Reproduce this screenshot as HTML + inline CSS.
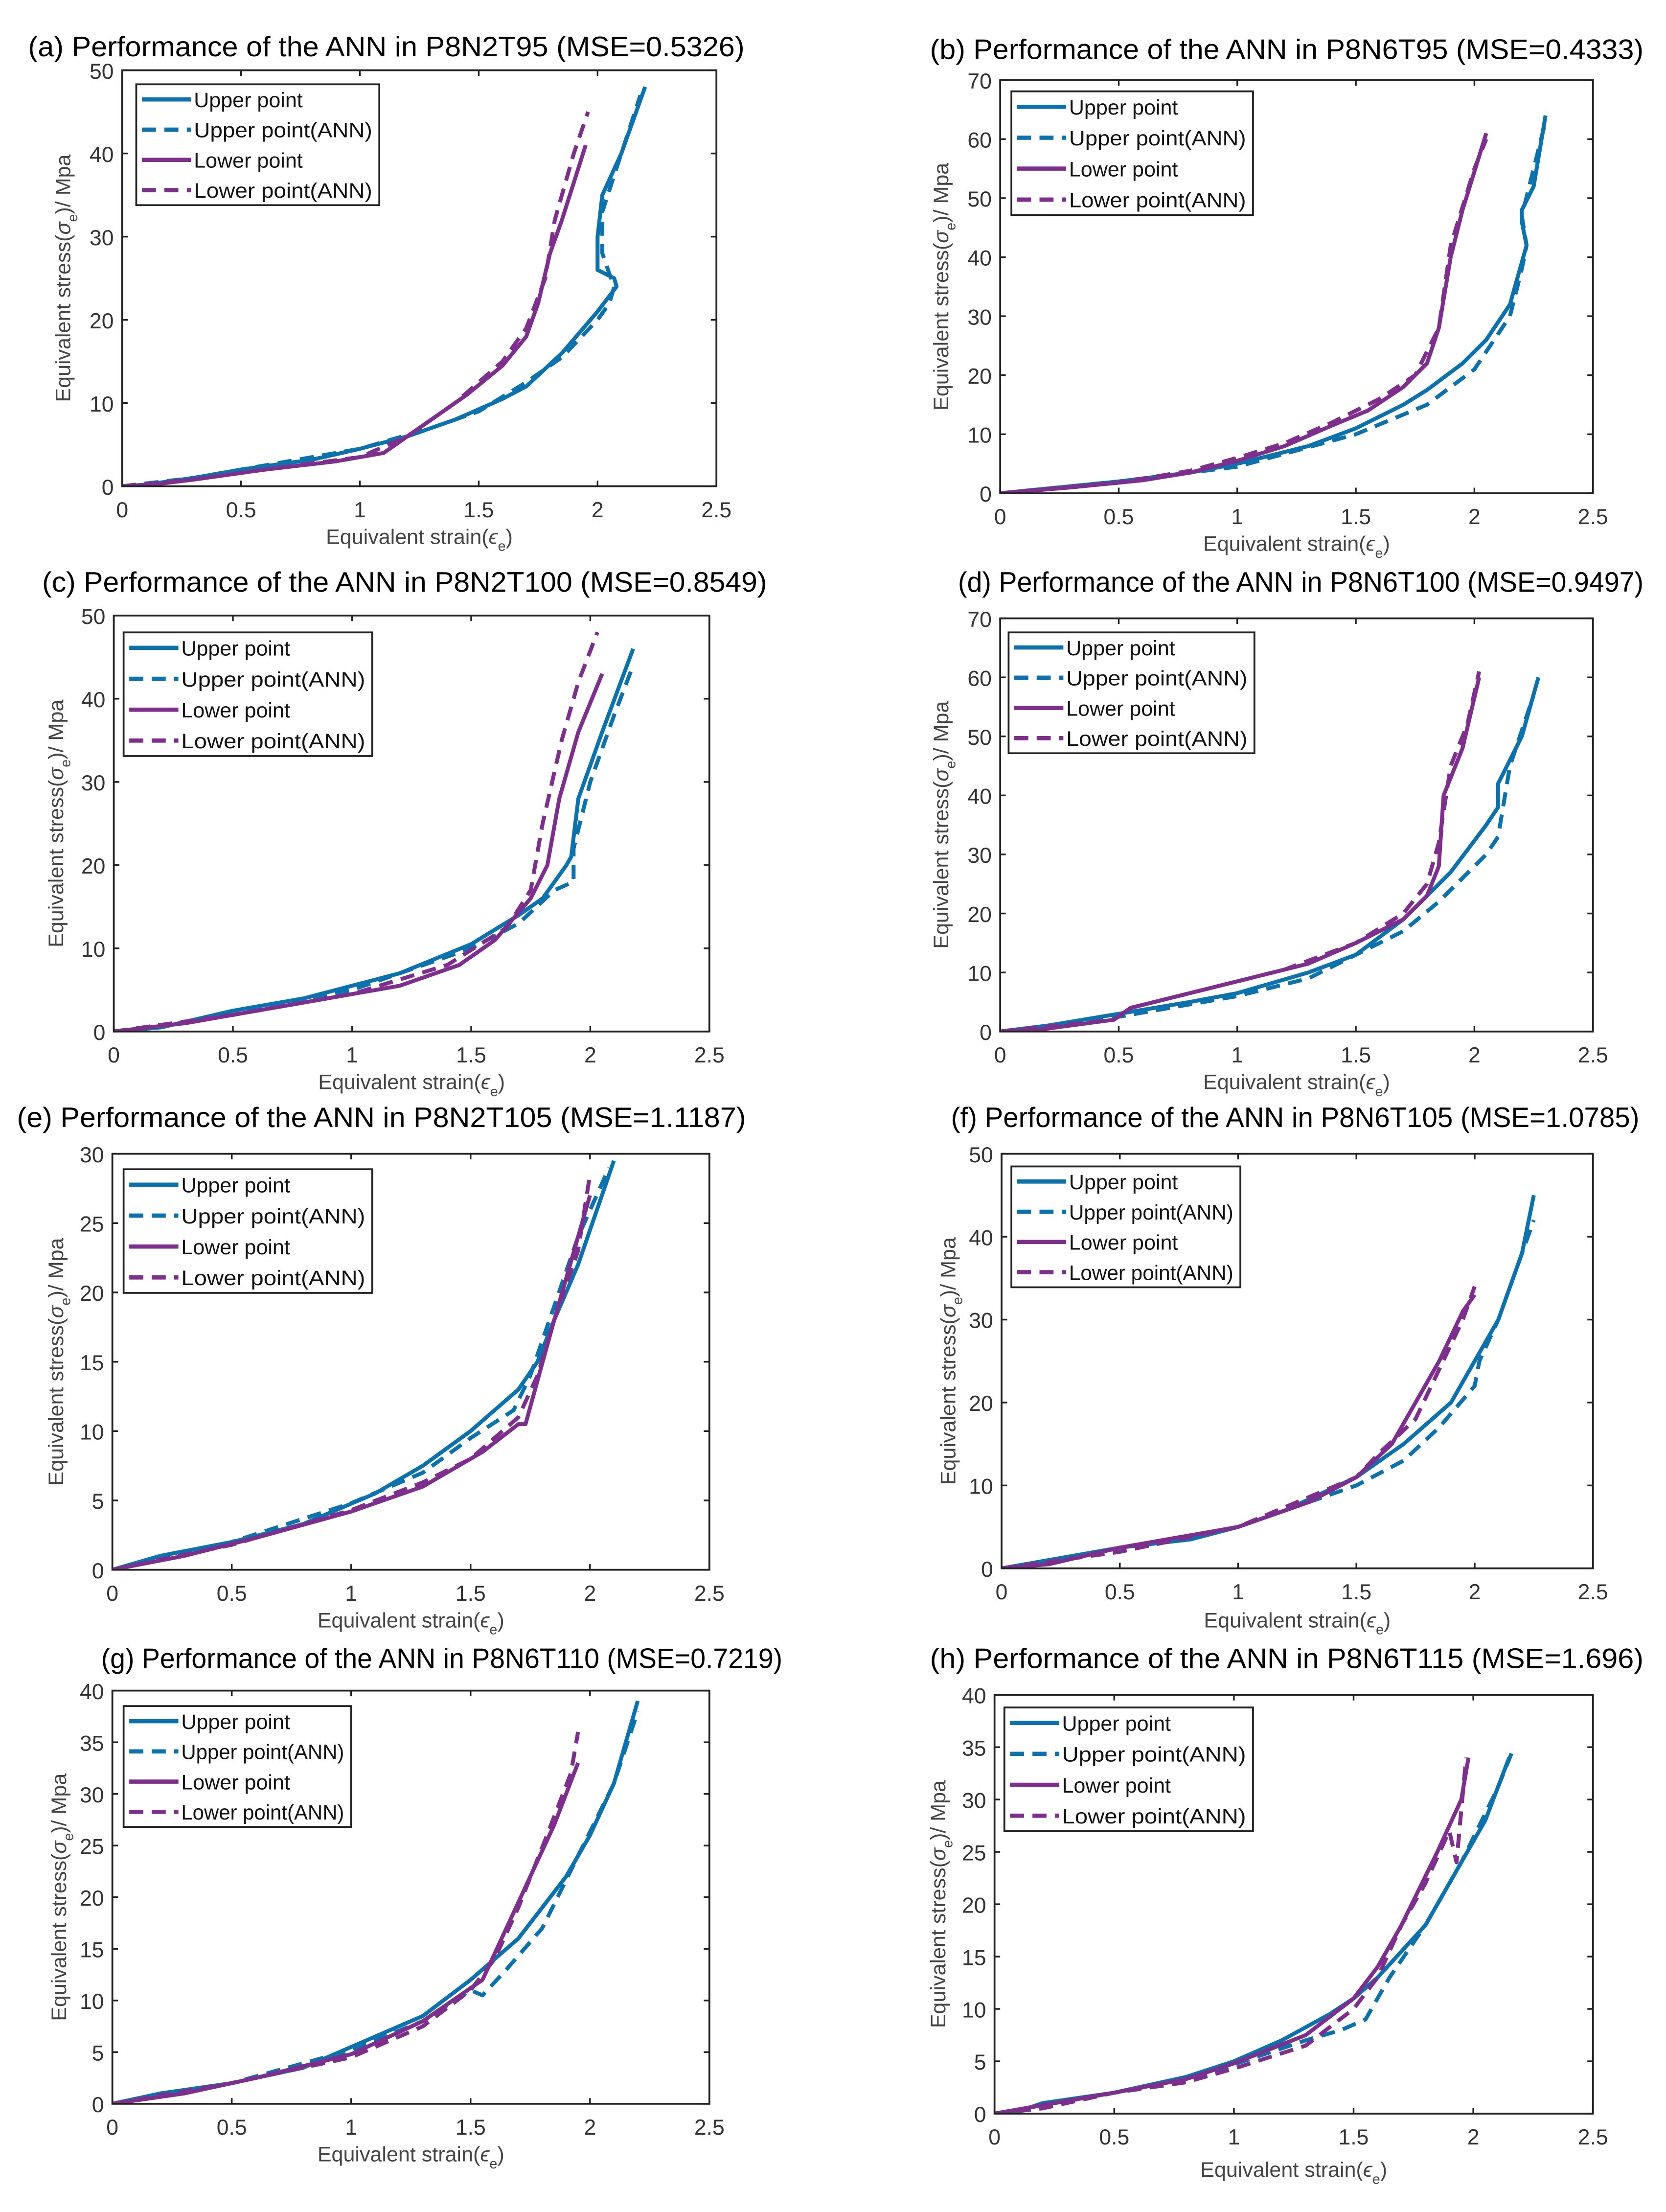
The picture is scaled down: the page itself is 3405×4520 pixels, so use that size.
<!DOCTYPE html>
<html><head><meta charset="utf-8">
<style>
html,body{margin:0;padding:0;background:#fff;}
svg{display:block;}
text{font-family:"Liberation Sans",sans-serif;}
</style></head>
<body>
<svg id="fig" width="3405" height="4520" viewBox="0 0 1186 1574" preserveAspectRatio="none" xmlns="http://www.w3.org/2000/svg"></svg>
<script>
const xTicks = [0, 0.5, 1, 1.5, 2, 2.5];
const xTickLabels = ["0", "0.5", "1", "1.5", "2", "2.5"];
const legendLabels = ["Upper point", "Upper point(ANN)", "Lower point", "Lower point(ANN)"];
const panelTitles = [
 "(a) Performance of the ANN in P8N2T95 (MSE=0.5326)",
 "(b) Performance of the ANN in P8N6T95 (MSE=0.4333)",
 "(c) Performance of the ANN in P8N2T100 (MSE=0.8549)",
 "(d) Performance of the ANN in P8N6T100 (MSE=0.9497)",
 "(e) Performance of the ANN in P8N2T105 (MSE=1.1187)",
 "(f) Performance of the ANN in P8N6T105 (MSE=1.0785)",
 "(g) Performance of the ANN in P8N6T110 (MSE=0.7219)",
 "(h) Performance of the ANN in P8N6T115 (MSE=1.696)"];
const yMaxes = [50, 70, 50, 70, 30, 50, 40, 40];
const yStepSizes = [10, 10, 10, 10, 5, 10, 5, 5];

const upperA = [[0,0],[0.1,0.2],[0.3,1],[0.5,2],[0.8,3.2],[1,4.5],[1.2,6],[1.4,8],[1.6,10.5],[1.7,12],[1.85,16],[2,21],[2.08,24],[2.07,25],[2.0,26],[2.0,30],[2.02,35],[2.1,40],[2.2,48]];
const upperAnnA = [[0,0],[0.3,1],[0.5,2],[1,4.5],[1.3,7],[1.5,9],[1.7,12.5],[1.85,15.5],[2.0,20],[2.05,22],[2.07,24],[2.05,25.5],[2.02,28],[2.02,33],[2.1,40],[2.18,47]];
const lowerA = [[0,0],[0.1,0.1],[0.3,0.8],[0.6,2],[0.9,3],[1.1,4],[1.2,6],[1.3,8],[1.45,11],[1.6,14.5],[1.7,18],[1.75,22],[1.8,28],[1.85,32],[1.95,41]];
const lowerAnnA = [[0,0],[0.3,0.8],[0.6,2],[1,3.5],[1.2,6],[1.4,10],[1.6,15],[1.7,19],[1.78,25],[1.82,32],[1.9,40],[1.96,45]];

const upperB = [[0,0],[0.2,0.8],[0.5,2],[0.8,3.5],[1,5],[1.3,8],[1.5,11],[1.7,15],[1.8,17.5],[1.95,22],[2.05,26],[2.15,32],[2.22,42],[2.2,46],[2.2,48],[2.25,52],[2.3,64]];
const upperAnnB = [[0,0],[0.5,2],[1,4.5],[1.5,10],[1.8,15],[2.0,21],[2.15,30],[2.2,38],[2.22,42],[2.2,47],[2.25,55],[2.3,63]];
const lowerB = [[0,0],[0.3,1],[0.6,2.2],[0.8,3.5],[1,5.5],[1.2,8],[1.4,11.5],[1.55,14],[1.7,18],[1.8,22],[1.85,28],[1.9,40],[1.95,48],[2.05,61]];
const lowerAnnB = [[0,0],[0.5,1.8],[0.8,3.8],[1.0,6],[1.2,8.5],[1.4,12],[1.6,16],[1.75,20],[1.85,28],[1.9,42],[2.0,55],[2.05,60]];

const upperC = [[0,0],[0.2,0.5],[0.5,2.5],[0.8,4],[1.0,5.5],[1.2,7],[1.5,10.5],[1.7,14],[1.8,16],[1.9,20],[1.92,21],[1.95,28],[2.05,36],[2.18,46]];
const upperAnnC = [[0,0],[0.5,2],[1,5],[1.5,10],[1.7,13],[1.85,17],[1.93,18],[1.93,22],[2.0,30],[2.1,38],[2.18,44]];
const lowerC = [[0,0],[0.3,1],[0.6,2.5],[1,4.5],[1.2,5.5],[1.45,8],[1.6,11],[1.75,16],[1.82,20],[1.87,28],[1.95,36],[2.05,43]];
const lowerAnnC = [[0,0],[0.5,2],[1,4.5],[1.4,8],[1.65,12.5],[1.75,17],[1.8,25],[1.88,35],[1.95,42],[2.03,48]];

const upperD = [[0,0],[0.2,1],[0.5,3],[0.8,5],[1.0,6.5],[1.3,10],[1.5,13],[1.7,19],[1.9,27],[2.05,35],[2.1,38],[2.1,42],[2.2,50],[2.27,60]];
const upperAnnD = [[0,0],[0.5,2.5],[1,6],[1.3,9],[1.5,13],[1.7,17],[1.85,22],[2.05,30],[2.1,33],[2.15,45],[2.25,57]];
const lowerD = [[0,0],[0.2,0.5],[0.48,2],[0.55,4],[0.8,6.5],[1.0,8.5],[1.3,11.5],[1.5,15],[1.7,19],[1.8,23],[1.85,28],[1.87,40],[1.95,48],[2.02,60]];
const lowerAnnD = [[0,0],[0.48,2],[0.55,4],[0.8,6.5],[1.2,10.5],[1.5,15],[1.7,20],[1.8,25],[1.85,32],[1.9,45],[1.97,52],[2.02,61]];

const upperE = [[0,0],[0.2,1],[0.5,2],[0.8,3.3],[1.1,5.5],[1.3,7.5],[1.5,10],[1.7,13],[1.78,15],[1.85,18],[1.95,22],[2.1,29.5]];
const upperAnnE = [[0,0],[0.5,2],[1,4.8],[1.3,7],[1.5,9.5],[1.68,11.5],[1.75,14],[1.85,19],[1.95,24],[2.08,29]];
const lowerE = [[0,0],[0.3,1],[0.6,2.3],[1.0,4.2],[1.3,6],[1.55,8.5],[1.7,10.5],[1.73,10.5],[1.77,13],[1.85,18],[1.95,24],[2.0,27]];
const lowerAnnE = [[0,0],[0.5,1.8],[1.0,4.3],[1.3,6.3],[1.5,8],[1.7,11],[1.78,14],[1.85,18],[1.95,23],[2.0,28.5]];

const upperF = [[0,0],[0.2,1],[0.5,2.5],[0.8,3.5],[1.0,5],[1.2,7],[1.5,11],[1.7,15],[1.9,20],[2.0,25],[2.1,30],[2.2,38],[2.25,45]];
const upperAnnF = [[0,0],[0.5,2],[1,5],[1.5,10],[1.7,13],[1.85,17],[2.0,22],[2.02,25],[2.1,30],[2.25,42]];
const lowerF = [[0,0],[0.2,0.5],[0.5,2.5],[1,5],[1.3,8],[1.5,11],[1.65,15],[1.75,20],[1.85,25],[1.95,31],[2.0,33]];
const lowerAnnF = [[0,0],[0.5,2],[1,5],[1.5,11],[1.6,14],[1.75,18],[1.85,24],[1.95,30],[2.0,34]];

const upperG = [[0,0],[0.2,1],[0.5,2],[0.8,3.5],[1.0,5.5],[1.3,8.5],[1.5,12],[1.7,16],[1.9,22],[2.0,26],[2.1,31],[2.2,39]];
const upperAnnG = [[0,0],[0.5,2],[1,5.2],[1.3,8],[1.5,11],[1.55,10.5],[1.65,13],[1.8,17],[1.95,24],[2.1,31],[2.2,38]];
const lowerG = [[0,0],[0.3,1],[0.6,2.5],[1,4.8],[1.3,8],[1.55,12],[1.65,17],[1.75,22],[1.85,27],[1.95,33]];
const lowerAnnG = [[0,0],[0.5,2],[1,4.5],[1.3,7.5],[1.5,11],[1.6,14],[1.7,19],[1.82,26],[1.92,32],[1.95,36]];

const upperH = [[0,0],[0.1,0.2],[0.2,1],[0.5,2],[0.8,3.5],[1.0,5],[1.2,7],[1.4,9.5],[1.5,11],[1.6,13],[1.8,18],[1.95,24],[2.05,28],[2.15,34]];
const upperAnnH = [[0,0],[0.5,2],[0.8,3],[1.0,4.7],[1.3,7],[1.45,8],[1.55,9],[1.65,13],[1.8,18],[1.95,24],[2.1,31],[2.17,35]];
const lowerH = [[0,0],[0.2,0.8],[0.5,2],[0.8,3.3],[1,4.8],[1.3,7.5],[1.5,11],[1.6,14],[1.7,18],[1.85,25],[1.95,30],[1.98,34]];
const lowerAnnH = [[0,0],[0.2,0.5],[0.5,2],[0.8,3],[1.0,4.3],[1.3,6.5],[1.5,10],[1.6,13],[1.7,18],[1.8,22],[1.9,27],[1.93,24],[1.95,29],[1.97,34]];

const seriesSets = [
 [upperA, upperAnnA, lowerA, lowerAnnA],
 [upperB, upperAnnB, lowerB, lowerAnnB],
 [upperC, upperAnnC, lowerC, lowerAnnC],
 [upperD, upperAnnD, lowerD, lowerAnnD],
 [upperE, upperAnnE, lowerE, lowerAnnE],
 [upperF, upperAnnF, lowerF, lowerAnnF],
 [upperG, upperAnnG, lowerG, lowerAnnG],
 [upperH, upperAnnH, lowerH, lowerAnnH]];

const L = [
 {t:[20,40,510], p:[87,50,510,346], xl:387, yl:45, lg:[97,60,173,86]},
 {t:[662,42,508], p:[712,57,1134,351], xl:392, yl:670, lg:[720,65,172,88]},
 {t:[30,421,516], p:[81,438,505,734], xl:775, yl:40, lg:[88,450,177,88]},
 {t:[682,421,488], p:[712,440,1134,734], xl:775, yl:670, lg:[718,450,175,86]},
 {t:[12,802,519], p:[80,821,505,1117], xl:1158, yl:40, lg:[88,832,177,88]},
 {t:[677,802,490], p:[713,821,1134,1116], xl:1158, yl:675, lg:[720,830,163,86]},
 {t:[72,1187,485], p:[80,1203,505,1497], xl:1538, yl:42, lg:[88,1214,162,86]},
 {t:[662,1187,508], p:[708,1206,1134,1504], xl:1549, yl:668, lg:[715,1215,177,88]}];

const NS = "http://www.w3.org/2000/svg";
const svg = document.getElementById('fig');
const colors = ["#0b72ad", "#0b72ad", "#7e2f8e", "#7e2f8e"];
const dashes = [null, "10,6", null, "10,6"];
const seriesNames = ["upper-point-line", "upper-point-ann-line", "lower-point-line", "lower-point-ann-line"];

function mk(tag, attrs, parent) {
  const e = document.createElementNS(NS, tag);
  for (const k in attrs) e.setAttribute(k, attrs[k]);
  parent.appendChild(e);
  return e;
}

for (let i = 0; i < 8; i++) {
  const cfg = L[i];
  const [x0, y0, x1, y1] = cfg.p;
  const ymax = yMaxes[i];
  const xs = v => x0 + (v / 2.5) * (x1 - x0);
  const ys = v => y1 - (v / ymax) * (y1 - y0);
  const g = mk('g', {}, svg);
  
  

  const title = mk('text', {x: cfg.t[0], y: cfg.t[1], 'font-size': 20, fill: '#000', textLength: cfg.t[2], lengthAdjust: 'spacingAndGlyphs'}, g);
  title.textContent = panelTitles[i];
  
  

  const cid = 'clip' + i;
  const cp = mk('clipPath', {id: cid}, g);
  mk('rect', {x: x0, y: y0, width: x1 - x0, height: y1 - y0}, cp);
  const lines = mk('g', {'clip-path': 'url(#' + cid + ')'}, g);
  seriesSets[i].forEach((s, k) => {
    const d = s.map((pt, j) => (j ? 'L' : 'M') + xs(pt[0]).toFixed(2) + ',' + ys(pt[1]).toFixed(2)).join(' ');
    const a = {d: d, fill: 'none', stroke: colors[k], 'stroke-width': 2.8, 'stroke-linejoin': 'round'};
    if (dashes[k]) a['stroke-dasharray'] = dashes[k];
    const p = mk('path', a, lines);
    
    
  });

  const box = mk('rect', {x: x0, y: y0, width: x1 - x0, height: y1 - y0, fill: 'none', stroke: '#222', 'stroke-width': 1.3}, g);
  
  

  xTicks.forEach((v, j) => {
    const X = xs(v);
    mk('line', {x1: X, y1: y1, x2: X, y2: y1 - 4, stroke: '#222', 'stroke-width': 1.2}, g);
    mk('line', {x1: X, y1: y0, x2: X, y2: y0 + 4, stroke: '#222', 'stroke-width': 1.2}, g);
    const t = mk('text', {x: X, y: y1 + 22, 'font-size': 15.5, 'text-anchor': 'middle', fill: '#333'}, g);
    t.textContent = xTickLabels[j];
    
    
  });
  for (let v = 0; v <= ymax + 1e-9; v += yStepSizes[i]) {
    const Y = ys(v);
    mk('line', {x1: x0, y1: Y, x2: x0 + 4, y2: Y, stroke: '#222', 'stroke-width': 1.2}, g);
    mk('line', {x1: x1, y1: Y, x2: x1 - 4, y2: Y, stroke: '#222', 'stroke-width': 1.2}, g);
    const t = mk('text', {x: x0 - 6, y: Y + 6, 'font-size': 15.5, 'text-anchor': 'end', fill: '#333'}, g);
    t.textContent = String(v);
    
    
  }

  const xl = mk('text', {x: (x0 + x1) / 2, y: cfg.xl, 'font-size': 15, 'text-anchor': 'middle', fill: '#444'}, g);
  xl.innerHTML = 'Equivalent strain(<tspan font-style="italic">ϵ</tspan><tspan font-size="10" dy="5">e</tspan><tspan dy="-5">)</tspan>';
  
  

  const yc = (y0 + y1) / 2;
  const yl = mk('text', {x: 0, y: 0, 'font-size': 15, 'text-anchor': 'middle', fill: '#444', transform: 'translate(' + (cfg.yl + 5) + ',' + yc + ') rotate(-90)'}, g);
  yl.innerHTML = 'Equivalent stress(<tspan font-style="italic">σ</tspan><tspan font-size="10" dy="5">e</tspan><tspan dy="-5">)/ Mpa</tspan>';
  
  

  const [lx, ly, lw, lh] = cfg.lg;
  const lgG = mk('g', {}, g);
  
  
  mk('rect', {x: lx, y: ly, width: lw, height: lh, fill: '#fff', stroke: '#222', 'stroke-width': 1.3}, lgG);
  const step = lh / 4;
  legendLabels.forEach((lab, k) => {
    const cy = ly + step * (k + 0.5);
    const a = {x1: lx + 4, y1: cy, x2: lx + 39, y2: cy, stroke: colors[k], 'stroke-width': 3};
    if (dashes[k]) a['stroke-dasharray'] = '10,6';
    mk('line', a, lgG);
    const t = mk('text', {x: lx + 41, y: cy + 5.5, 'font-size': 15, fill: '#111', textLength: lw - 46, lengthAdjust: 'spacingAndGlyphs'}, lgG);
    if (k === 0 || k === 2) t.removeAttribute('textLength');
    t.textContent = lab;
    
    
  });
}
</script>
</body></html>
